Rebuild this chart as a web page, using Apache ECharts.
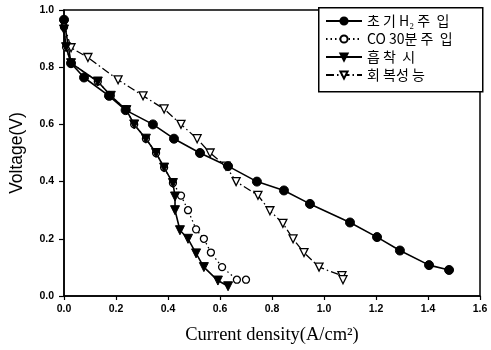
<!DOCTYPE html>
<html><head><meta charset="utf-8">
<script src="https://cdn.jsdelivr.net/npm/echarts@6/dist/echarts.min.js"></script>
<style>html,body{margin:0;padding:0;background:#fff}#c{width:491px;height:350px}</style>
</head><body><div id="c"></div>
<script>
// Series names
const names = ['초 기 H₂ 주  입', 'CO 30분 주  입', '흡 착  시', '회 복성 능'];
// 초기 H2 주입 (filled circles)
const h2X = [0, 0.027, 0.077, 0.173, 0.237, 0.342, 0.423, 0.523, 0.631, 0.742, 0.846, 0.946, 1.10, 1.204, 1.292, 1.404, 1.481];
const h2Y = [0.966, 0.814, 0.764, 0.700, 0.650, 0.600, 0.550, 0.500, 0.454, 0.400, 0.369, 0.322, 0.257, 0.206, 0.159, 0.108, 0.091];
// CO 30분 주입 (open circles)
const coX = [0, 0.008, 0.027, 0.13, 0.18, 0.24, 0.27, 0.315, 0.354, 0.385, 0.419, 0.45, 0.477, 0.508, 0.538, 0.565, 0.608, 0.665, 0.70];
const coY = [0.940, 0.870, 0.814, 0.750, 0.700, 0.650, 0.600, 0.550, 0.500, 0.449, 0.395, 0.351, 0.300, 0.233, 0.200, 0.152, 0.101, 0.057, 0.057];
// 흡착 시 (filled down triangles)
const adX = [0, 0.008, 0.027, 0.13, 0.18, 0.24, 0.27, 0.315, 0.354, 0.385, 0.419, 0.427, 0.427, 0.446, 0.477, 0.508, 0.538, 0.592, 0.631];
const adY = [0.932, 0.870, 0.814, 0.750, 0.700, 0.650, 0.600, 0.550, 0.500, 0.449, 0.395, 0.348, 0.300, 0.230, 0.200, 0.149, 0.101, 0.054, 0.034];
// 회복성능 (open down triangles)
const reX = [0, 0.027, 0.092, 0.208, 0.304, 0.385, 0.45, 0.512, 0.562, 0.623, 0.662, 0.746, 0.792, 0.842, 0.881, 0.923, 0.981, 1.069, 1.073];
const reY = [0.950, 0.868, 0.834, 0.756, 0.700, 0.654, 0.600, 0.550, 0.500, 0.454, 0.400, 0.352, 0.298, 0.254, 0.200, 0.152, 0.101, 0.071, 0.057];
// Tick settings
const xTicks = {min: 0, max: 1.6, interval: 0.2};
const yTicks = {min: 0, max: 1.0, interval: 0.2};

const zip = (xs, ys) => xs.map((x, i) => [x, ys[i]]);
const chart = echarts.init(document.getElementById('c'), null, {renderer: 'canvas'});
const tickFont = {color: '#000', fontFamily: 'Liberation Sans', fontWeight: 'bold', fontSize: 10.5};
chart.setOption({
  animation: false,
  backgroundColor: '#fff',
  grid: {left: 63, top: 10, right: 11, bottom: 45, show: true, borderColor: '#000', borderWidth: 1.5, containLabel: false},
  xAxis: {
    type: 'value', min: xTicks.min, max: xTicks.max, interval: xTicks.interval,
    name: 'Current density(A/cm²)', nameLocation: 'middle', nameGap: 30,
    nameTextStyle: {color: '#000', fontFamily: 'Liberation Serif', fontSize: 18.5},
    axisLine: {show: true, lineStyle: {color: '#000', width: 1.5}},
    axisTick: {show: true, inside: false, length: 4, lineStyle: {color: '#000', width: 1.2}},
    splitLine: {show: false},
    axisLabel: Object.assign({margin: 8, formatter: v => v.toFixed(1)}, tickFont)
  },
  yAxis: {
    type: 'value', min: yTicks.min, max: yTicks.max, interval: yTicks.interval,
    name: 'Voltage(V)', nameLocation: 'middle', nameGap: 38,
    nameTextStyle: {color: '#000', fontFamily: 'Liberation Sans', fontSize: 17.5},
    axisLine: {show: true, lineStyle: {color: '#000', width: 1.5}},
    axisTick: {show: true, inside: false, length: 5, lineStyle: {color: '#000', width: 1.2}},
    splitLine: {show: false},
    axisLabel: Object.assign({margin: 10, formatter: v => v.toFixed(1)}, tickFont)
  },
  graphic: [{
    type: 'rect', left: 318, top: 7, z: 10,
    shape: {width: 164, height: 84},
    style: {fill: '#fff', stroke: '#000', lineWidth: 1.5}
  }],
  legend: {
    data: names, orient: 'vertical', left: 320, top: 9, z: 20,
    itemWidth: 36, itemHeight: 9, itemGap: 4,
    textStyle: {color: '#000', fontFamily: 'Noto Sans CJK KR', fontSize: 14},
    inactiveColor: '#000'
  },
  series: [
    {
      name: names[1], type: 'line', data: zip(coX, coY),
      symbol: 'circle', symbolSize: 7,
      itemStyle: {color: '#fff', borderColor: '#000', borderWidth: 1.3},
      lineStyle: {color: '#000', width: 1.3, type: [1.5, 3]}
    },
    {
      name: names[3], type: 'line', data: zip(reX, reY),
      symbol: 'triangle', symbolSize: 8, symbolRotate: 180,
      itemStyle: {color: '#fff', borderColor: '#000', borderWidth: 1.3},
      lineStyle: {color: '#000', width: 1.3, type: [8, 3, 1.5, 3]}
    },
    {
      name: names[2], type: 'line', data: zip(adX, adY),
      symbol: 'triangle', symbolSize: 9, symbolRotate: 180,
      itemStyle: {color: '#000', borderColor: '#000', borderWidth: 1},
      lineStyle: {color: '#000', width: 1.6}
    },
    {
      name: names[0], type: 'line', data: zip(h2X, h2Y),
      symbol: 'circle', symbolSize: 9,
      itemStyle: {color: '#000', borderColor: '#000', borderWidth: 1},
      lineStyle: {color: '#000', width: 1.6}
    }
  ]
});
</script></body></html>
